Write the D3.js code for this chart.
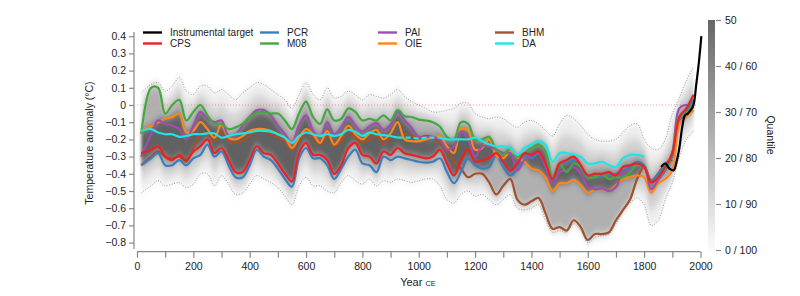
<!DOCTYPE html>
<html>
<head>
<meta charset="utf-8">
<script src="https://cdn.jsdelivr.net/npm/d3@7"></script>
<style>
  body { margin: 0; background: #fff; }
  svg { font-family: "Liberation Sans", Arial, Helvetica, sans-serif; }
</style>
</head>
<body>
<div id="chart"></div>
<script>
// years shared by the reconstructions (CE)
const years = [15, 50, 75, 100, 125, 150, 175, 200, 225, 250,
  275, 300, 325, 350, 375, 400, 425, 450, 475, 500,
  525, 550, 575, 600, 625, 650, 675, 700, 725, 750,
  775, 800, 825, 850, 875, 900, 925, 950, 975, 1000,
  1025, 1050, 1075, 1100, 1125, 1150, 1175, 1200, 1225, 1250,
  1275, 1300, 1325, 1350, 1375, 1400, 1425, 1450, 1475, 1500,
  1525, 1550, 1575, 1600, 1625, 1650, 1675, 1700, 1725, 1750,
  1775, 1800, 1825, 1850, 1875, 1900, 1925, 1950, 1975];

const cps = [-0.28, -0.26, -0.24, -0.30, -0.32, -0.29, -0.32, -0.27, -0.24, -0.20,
  -0.28, -0.25, -0.32, -0.39, -0.39, -0.32, -0.24, -0.28, -0.29, -0.34,
  -0.40, -0.445, -0.28, -0.22, -0.29, -0.29, -0.32, -0.40, -0.35, -0.25,
  -0.22, -0.29, -0.30, -0.34, -0.27, -0.29, -0.25, -0.28, -0.29, -0.30,
  -0.31, -0.30, -0.26, -0.34, -0.41, -0.32, -0.26, -0.33, -0.32, -0.31,
  -0.28, -0.33, -0.38, -0.34, -0.28, -0.29, -0.27, -0.34, -0.43, -0.34,
  -0.32, -0.30, -0.35, -0.41, -0.40, -0.40, -0.39, -0.41, -0.36, -0.35,
  -0.34, -0.36, -0.45, -0.42, -0.36, -0.28, -0.07, -0.02, 0.06];

const pcr = [-0.35, -0.31, -0.28, -0.35, -0.35, -0.32, -0.35, -0.31, -0.29, -0.23,
  -0.30, -0.27, -0.35, -0.42, -0.42, -0.35, -0.26, -0.30, -0.32, -0.37,
  -0.43, -0.475, -0.31, -0.25, -0.31, -0.31, -0.35, -0.43, -0.37, -0.30,
  -0.26, -0.34, -0.35, -0.39, -0.30, -0.32, -0.30, -0.31, -0.32, -0.33,
  -0.335, -0.33, -0.31, -0.39, -0.455, -0.39, -0.31, -0.35, -0.37, -0.36,
  -0.29, -0.36, -0.41, -0.37, -0.29, -0.31, -0.28, -0.34, -0.43, -0.34,
  -0.34, -0.32, -0.36, -0.42, -0.42, -0.41, -0.41, -0.40, -0.38, -0.36,
  -0.33, -0.35, -0.44, -0.40, -0.35, -0.30, -0.10, -0.04, 0.03];

const m08 = [-0.17, 0.10, 0.10, -0.05, 0.00, 0.03, -0.09, -0.04, 0.00, -0.06,
  -0.11, -0.11, -0.14, -0.13, -0.11, -0.07, -0.045, -0.04, -0.05, -0.05,
  -0.09, -0.14, -0.05, 0.02, -0.07, -0.11, -0.025, -0.09, -0.08, -0.02,
  -0.04, -0.09, -0.08, -0.09, -0.06, -0.09, -0.03, -0.065, -0.07, -0.085,
  -0.09, -0.10, -0.125, -0.185, -0.20, -0.10, -0.11, -0.20, -0.20, -0.185,
  -0.26, -0.29, -0.25, -0.30, -0.28, -0.25, -0.23, -0.27, -0.42, -0.34,
  -0.39, -0.34, -0.36, -0.42, -0.42, -0.40, -0.43, -0.42, -0.42, -0.39,
  -0.35, -0.36, -0.45, -0.42, -0.37, -0.28, -0.07, -0.05, 0.01];

const pai = [-0.30, -0.17, -0.09, -0.11, -0.12, -0.14, -0.20, -0.12, -0.04, -0.08,
  -0.10, -0.09, -0.18, -0.17, -0.12, -0.07, -0.03, -0.03, -0.06, -0.12,
  -0.17, -0.22, -0.12, -0.06, -0.15, -0.19, -0.10, -0.17, -0.13, -0.07,
  -0.12, -0.155, -0.125, -0.105, -0.145, -0.115, -0.04, -0.09, -0.135, -0.185,
  -0.185, -0.185, -0.20, -0.26, -0.24, -0.155, -0.20, -0.30, -0.24, -0.24,
  -0.26, -0.28, -0.28, -0.38, -0.32, -0.29, -0.28, -0.36, -0.46, -0.39,
  -0.38, -0.36, -0.40, -0.475, -0.49, -0.485, -0.50, -0.475, -0.39, -0.38,
  -0.36, -0.36, -0.49, -0.435, -0.38, -0.28, -0.02, 0.00, -0.02];

const oie = [-0.135, -0.125, -0.10, -0.08, -0.07, -0.05, -0.16, -0.15, -0.10, -0.14,
  -0.19, -0.11, -0.19, -0.20, -0.18, -0.15, -0.14, -0.14, -0.15, -0.17,
  -0.19, -0.25, -0.19, -0.14, -0.17, -0.22, -0.15, -0.23, -0.18, -0.12,
  -0.17, -0.20, -0.165, -0.145, -0.20, -0.165, -0.10, -0.20, -0.21, -0.21,
  -0.20, -0.185, -0.18, -0.24, -0.28, -0.14, -0.15, -0.26, -0.25, -0.20,
  -0.29, -0.31, -0.27, -0.30, -0.33, -0.37, -0.38, -0.42, -0.50, -0.455,
  -0.455, -0.435, -0.465, -0.51, -0.49, -0.49, -0.50, -0.465, -0.43, -0.42,
  -0.41, -0.42, -0.51, -0.455, -0.43, -0.38, -0.11, -0.07, -0.03];

const bhm = [-0.35, -0.30, -0.27, -0.30, -0.31, -0.30, -0.33, -0.25, -0.17, -0.17,
  -0.21, -0.16, -0.21, -0.22, -0.21, -0.18, -0.15, -0.15, -0.17, -0.19,
  -0.21, -0.26, -0.21, -0.16, -0.19, -0.23, -0.18, -0.24, -0.21, -0.15,
  -0.19, -0.22, -0.20, -0.18, -0.23, -0.19, -0.18, -0.17, -0.18, -0.19,
  -0.18, -0.19, -0.22, -0.27, -0.33, -0.37, -0.42, -0.40, -0.40, -0.45,
  -0.52, -0.47, -0.43, -0.55, -0.58, -0.56, -0.54, -0.63, -0.72, -0.71,
  -0.73, -0.67, -0.71, -0.785, -0.75, -0.75, -0.74, -0.67, -0.61, -0.55,
  -0.43, -0.36, -0.44, -0.40, -0.34, -0.32, null, null, null];

const da = [-0.15, -0.14, -0.16, -0.17, -0.17, -0.185, -0.18, -0.17, -0.17, -0.165,
  -0.165, -0.19, -0.18, -0.17, -0.165, -0.16, -0.15, -0.15, -0.155, -0.17,
  -0.19, -0.22, -0.18, -0.16, -0.17, -0.18, -0.17, -0.18, -0.17, -0.145,
  -0.155, -0.18, -0.16, -0.17, -0.175, -0.18, -0.19, -0.19, -0.19, -0.195,
  -0.19, -0.19, -0.19, -0.20, -0.20, -0.20, -0.20, -0.19, -0.21, -0.23,
  -0.24, -0.24, -0.25, -0.29, -0.25, -0.23, -0.21, -0.23, -0.33, -0.28,
  -0.28, -0.29, -0.30, -0.34, -0.34, -0.33, -0.35, -0.36, -0.31, -0.29,
  -0.29, -0.30, null, null, null, null, null, null, null];

// dotted outer quantile envelope
const upperBound = [0.07, 0.12, 0.13, 0.08, 0.11, 0.16, 0.08, 0.06, 0.11, 0.11,
  0.07, 0.09, 0.06, 0.03, 0.07, 0.10, 0.13, 0.12, 0.09, 0.06,
  0.03, -0.02, 0.06, 0.13, 0.06, 0.03, 0.10, 0.04, 0.05, 0.08,
  0.06, 0.03, 0.06, 0.05, 0.04, 0.06, 0.09, 0.05, 0.02, 0.00,
  -0.02, -0.04, -0.04, -0.03, -0.02, 0.01, 0.01, -0.05, -0.07, -0.08,
  -0.07, -0.08, -0.11, -0.13, -0.10, -0.09, -0.11, -0.15, -0.18, -0.11,
  -0.06, -0.08, -0.12, -0.17, -0.20, -0.21, -0.21, -0.20, -0.16, -0.12,
  -0.11, -0.20, -0.25, -0.26, -0.20, -0.05, 0.04, 0.14, 0.22];

const lowerBound = [-0.51, -0.47, -0.44, -0.47, -0.46, -0.45, -0.48, -0.46, -0.40, -0.40,
  -0.47, -0.41, -0.46, -0.52, -0.51, -0.46, -0.41, -0.43, -0.45, -0.48,
  -0.53, -0.58, -0.47, -0.42, -0.47, -0.47, -0.50, -0.51, -0.45, -0.41,
  -0.44, -0.46, -0.43, -0.47, -0.44, -0.45, -0.43, -0.44, -0.45, -0.44,
  -0.43, -0.43, -0.47, -0.55, -0.57, -0.52, -0.50, -0.53, -0.52, -0.55,
  -0.58, -0.55, -0.52, -0.60, -0.61, -0.60, -0.58, -0.67, -0.74, -0.73,
  -0.74, -0.69, -0.73, -0.80, -0.77, -0.76, -0.75, -0.69, -0.62, -0.57,
  -0.54, -0.58, -0.70, -0.67, -0.55, -0.45, -0.30, -0.20, -0.15];

// instrumental target
const instYears = [1860, 1875, 1890, 1905, 1915, 1925, 1935, 1945, 1955, 1965, 1975, 1985, 1995, 2003];
const instValues = [-0.36, -0.34, -0.37, -0.38, -0.33, -0.25, -0.13, -0.06, -0.05, -0.03, 0.0, 0.12, 0.26, 0.40];

const xTicks = [0, 100, 200, 300, 400, 500, 600, 700, 800, 900, 1000, 1100, 1200, 1300, 1400, 1500, 1600, 1700, 1800, 1900, 2000];
const yTicks = [0.4, 0.3, 0.2, 0.1, 0, -0.1, -0.2, -0.3, -0.4, -0.5, -0.6, -0.7, -0.8];
const quantileLabels = ['0 / 100', '10 / 90', '20 / 80', '30 / 70', '40 / 60', '50'];

const series = [
  { name: 'BHM', values: bhm, color: '#a0522d' },
  { name: 'PCR', values: pcr, color: '#3a7ebf' },
  { name: 'OIE', values: oie, color: '#ff8517' },
  { name: 'PAI', values: pai, color: '#9c4fae' },
  { name: 'M08', values: m08, color: '#45a83e' },
  { name: 'DA', values: da, color: '#1ee6e6' },
  { name: 'CPS', values: cps, color: '#ee2024' }
];

const legendItems = [
  { name: 'Instrumental target', color: '#000000', col: 0, row: 0 },
  { name: 'CPS', color: '#ee2024', col: 0, row: 1 },
  { name: 'PCR', color: '#3a7ebf', col: 1, row: 0 },
  { name: 'M08', color: '#45a83e', col: 1, row: 1 },
  { name: 'PAI', color: '#9c4fae', col: 2, row: 0 },
  { name: 'OIE', color: '#ff8517', col: 2, row: 1 },
  { name: 'BHM', color: '#a0522d', col: 3, row: 0 },
  { name: 'DA', color: '#1ee6e6', col: 3, row: 1 }
];

const width = 800, height = 296;
const svg = d3.select('#chart').append('svg')
  .attr('width', width).attr('height', height);

const x = d3.scaleLinear().domain([0, 2000]).range([137, 700.5]);
const y = d3.scaleLinear().domain([-0.8, 0.4]).range([242.6, 36.2]);

const defs = svg.append('defs');
defs.append('filter').attr('id', 'soft')
  .attr('x', '-5%').attr('y', '-30%').attr('width', '110%').attr('height', '160%')
  .append('feGaussianBlur').attr('stdDeviation', '1.5 4');

const grad = defs.append('linearGradient').attr('id', 'qgrad')
  .attr('x1', 0).attr('y1', 0).attr('x2', 0).attr('y2', 1);
grad.append('stop').attr('offset', '0%').attr('stop-color', '#666');
grad.append('stop').attr('offset', '100%').attr('stop-color', '#fbfbfb');

// per-year spread of the reconstructions
const rows = years.map((yr, i) => {
  const vals = series.map(s => s.values[i]).filter(v => v !== null).sort(d3.ascending);
  return {
    year: yr,
    lo: lowerBound[i], hi: upperBound[i],
    min: vals[0], max: vals[vals.length - 1],
    min2: vals[1], max2: vals[vals.length - 2]
  };
});

const curve = d3.curveCatmullRom.alpha(0.5);
const shade = svg.append('g').attr('filter', 'url(#soft)');

const band = (a, b) => d3.area().x(d => x(d.year)).y0(d => y(a(d))).y1(d => y(b(d))).curve(curve);

shade.append('path').datum(rows)
  .attr('d', band(d => d.lo, d => d.hi))
  .attr('fill', '#000').attr('opacity', 0.07);
shade.append('path').datum(rows)
  .attr('d', band(d => (d.lo + d.min) / 2, d => (d.hi + d.max) / 2))
  .attr('fill', '#000').attr('opacity', 0.12);
shade.append('path').datum(rows)
  .attr('d', band(d => d.min, d => d.max))
  .attr('fill', '#000').attr('opacity', 0.16);
shade.append('path').datum(rows)
  .attr('d', band(d => d.min2, d => d.max2))
  .attr('fill', '#000').attr('opacity', 0.45);

// zero reference line
svg.append('line')
  .attr('x1', x(0)).attr('x2', x(1990))
  .attr('y1', y(0)).attr('y2', y(0))
  .attr('stroke', '#f08080').attr('stroke-width', 0.8)
  .attr('stroke-dasharray', '1,2');

// dotted envelope
const envLine = key => d3.line().x(d => x(d.year)).y(d => y(d[key])).curve(curve);
['lo', 'hi'].forEach(k => {
  svg.append('path').datum(rows)
    .attr('d', envLine(k))
    .attr('fill', 'none').attr('stroke', '#888')
    .attr('stroke-width', 0.8).attr('stroke-dasharray', '1,1.6');
});

// reconstructions
series.forEach(s => {
  const pts = years.map((yr, i) => ({ year: yr, v: s.values[i] }));
  if (s.name === 'DA') {
    const solid = d3.line().defined(d => d.v !== null && (d.year <= 925 || d.year >= 1075))
      .x(d => x(d.year)).y(d => y(d.v)).curve(curve);
    svg.append('path').datum(pts).attr('d', solid)
      .attr('fill', 'none').attr('stroke', s.color).attr('stroke-width', 2.2);
    const dashed = d3.line().x(d => x(d.year)).y(d => y(d.v)).curve(curve);
    svg.append('path').datum(pts.filter(d => d.year >= 925 && d.year <= 1075)).attr('d', dashed)
      .attr('fill', 'none').attr('stroke', s.color).attr('stroke-width', 2.2)
      .attr('stroke-dasharray', '5,3');
  } else {
    const line = d3.line().defined(d => d.v !== null)
      .x(d => x(d.year)).y(d => y(d.v)).curve(curve);
    svg.append('path').datum(pts).attr('d', line)
      .attr('fill', 'none').attr('stroke', s.color).attr('stroke-width', 2.2)
      .attr('stroke-linejoin', 'round');
  }
});

// instrumental target
const inst = instYears.map((yr, i) => ({ year: yr, v: instValues[i] }));
svg.append('path').datum(inst)
  .attr('d', d3.line().x(d => x(d.year)).y(d => y(d.v)).curve(curve))
  .attr('fill', 'none').attr('stroke', '#000').attr('stroke-width', 2.2);

// axes
const fmt = d => d === 0 ? '0' : d3.format('.1f')(d).replace('-', '\u2212');
const yAxis = svg.append('g').attr('transform', 'translate(134,0)')
  .call(d3.axisLeft(y).tickValues(yTicks).tickFormat(fmt).tickSize(5).tickPadding(3));
yAxis.select('.domain').remove();
yAxis.append('line').attr('x1', 0).attr('x2', 0).attr('y1', 32).attr('y2', 249)
  .attr('stroke', '#888').attr('stroke-width', 1.2);

const xAxis = svg.append('g').attr('transform', 'translate(0,251.7)')
  .call(d3.axisBottom(x).tickValues(xTicks)
    .tickFormat(d => d % 200 === 0 ? d : '').tickSize(6).tickPadding(5));
xAxis.select('.domain').remove();
xAxis.append('line').attr('x1', x(0)).attr('x2', x(2000)).attr('y1', 0).attr('y2', 0)
  .attr('stroke', '#888').attr('stroke-width', 1.2);

[yAxis, xAxis].forEach(a => {
  a.selectAll('.tick line').attr('stroke', '#888').attr('stroke-width', 1.2);
  a.selectAll('.tick text').attr('fill', '#222').style('font-size', '10.5px')
    .style('font-family', '"Liberation Sans", Arial, sans-serif');
});

svg.append('text')
  .attr('transform', 'translate(93,143) rotate(-90)')
  .attr('text-anchor', 'middle').attr('fill', '#222')
  .style('font-size', '10.5px')
  .text('Temperature anomaly (\u00b0C)');

const xt = svg.append('text').attr('x', 418).attr('y', 286)
  .attr('text-anchor', 'middle').attr('fill', '#222').style('font-size', '11px');
xt.append('tspan').text('Year ');
xt.append('tspan').style('font-size', '7.5px').text('CE');

// legend
const colX = [143, 260, 378, 495];
const rowY = [32.5, 43.5];
const leg = svg.append('g').selectAll('g').data(legendItems).enter().append('g')
  .attr('transform', d => `translate(${colX[d.col]},${rowY[d.row]})`);
leg.append('line').attr('x1', 0).attr('x2', 19).attr('y1', 0).attr('y2', 0)
  .attr('stroke', d => d.color).attr('stroke-width', 2.4);
leg.append('text').attr('x', 27).attr('y', 3.6).attr('fill', '#222')
  .style('font-size', '10px').text(d => d.name);

// quantile colour bar
const q = d3.scaleLinear().domain([0, 5]).range([250, 20]);
svg.append('rect').attr('x', 708).attr('y', q(5)).attr('width', 7)
  .attr('height', q(0) - q(5)).attr('fill', 'url(#qgrad)');
const qAxis = svg.append('g').attr('transform', 'translate(716,0)')
  .call(d3.axisRight(q).tickValues([0, 1, 2, 3, 4, 5])
    .tickFormat((d, i) => quantileLabels[i]).tickSize(5).tickPadding(4));
qAxis.select('.domain').remove();
qAxis.selectAll('.tick line').attr('stroke', '#888').attr('stroke-width', 1.2);
qAxis.selectAll('.tick text').attr('fill', '#222').style('font-size', '10.5px')
  .style('font-family', '"Liberation Sans", Arial, sans-serif');

svg.append('text')
  .attr('transform', 'translate(767,135) rotate(90)')
  .attr('text-anchor', 'middle').attr('fill', '#222')
  .style('font-size', '10.5px').text('Quantile');
</script>
</body>
</html>
